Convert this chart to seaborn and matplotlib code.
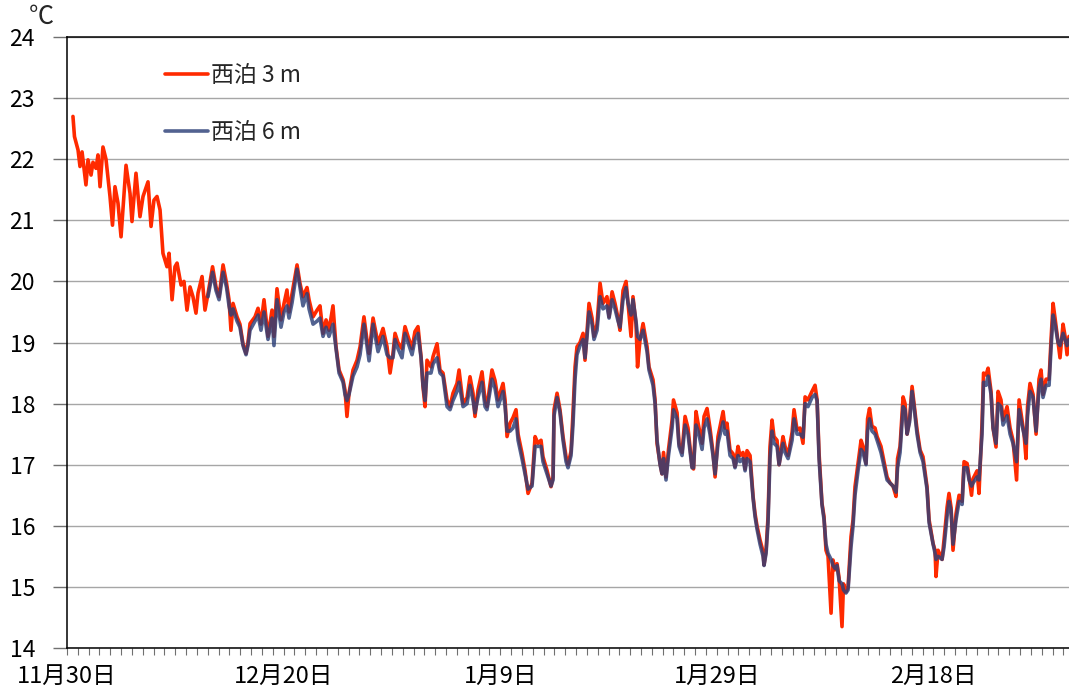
import numpy as np
import pandas as pd
import matplotlib
matplotlib.use("Agg")
import matplotlib.pyplot as plt
import matplotlib.dates as mdates
from matplotlib.ticker import FuncFormatter
import seaborn as sns

# Water temperature at Nishidomari, 3 m and 6 m depth
START = "2015-11-30"

elapsed_days = [
    0.55, 0.69, 1.02, 1.20, 1.39, 1.75, 1.94, 2.22, 2.40, 2.68,
    2.86, 3.05, 3.32, 3.60, 3.97, 4.20, 4.43, 4.71, 4.99, 5.45,
    5.82, 6.00, 6.37, 6.74, 7.02, 7.48, 7.76, 8.03, 8.31, 8.59,
    8.86, 9.23, 9.42, 9.70, 9.97, 10.16, 10.53, 10.80, 11.08, 11.36,
    11.63, 11.91, 12.10, 12.47, 12.74,
    13.02, 13.44, 13.76, 14.04, 14.41, 14.73, 14.96, 15.14, 15.33, 15.70,
    15.97, 16.25, 16.53, 16.71, 16.90, 17.36, 17.64, 17.91, 18.19, 18.56,
    18.93, 19.11, 19.39, 19.76, 20.04, 20.31, 20.50, 20.78, 21.24, 21.51,
    21.79, 22.16, 22.35, 22.72, 23.09, 23.36, 23.64, 23.92, 24.19, 24.56,
    24.84, 25.12, 25.49, 25.67, 25.85, 26.04, 26.41, 26.78, 27.06, 27.42,
    27.70, 27.89, 28.26, 28.72, 29.18, 29.55, 29.83, 30.10, 30.29, 30.56,
    30.93, 31.21, 31.49, 31.86, 32.13, 32.41, 32.69, 32.87, 33.06, 33.24,
    33.61, 33.80, 34.17, 34.44, 34.72, 35.09, 35.37, 35.64, 36.01, 36.20,
    36.57, 36.94, 37.21, 37.49, 37.67, 37.95, 38.32, 38.60, 38.78, 39.24,
    39.52, 39.80, 40.26, 40.45, 40.63, 40.91, 41.18, 41.46, 41.65, 42.01,
    42.29, 42.57, 42.94, 43.22, 43.49, 43.77, 43.95, 44.32, 44.69, 44.88,
    44.97, 45.25, 45.52, 45.80, 46.08, 46.26, 46.54, 46.72, 46.91, 47.09,
    47.37, 47.65, 47.83, 48.02, 48.20, 48.48, 48.66, 48.94, 49.22, 49.49,
    49.86, 50.05, 50.33, 50.60, 50.88, 51.06, 51.34, 51.62, 51.80, 52.08,
    52.26, 52.54, 52.68, 52.91, 53.19, 53.56, 53.74, 54.11, 54.30, 54.48,
    54.76, 54.94, 55.08, 55.31, 55.54, 55.87, 56.00, 56.33, 56.51, 56.79,
    57.07, 57.34, 57.71, 57.85, 58.08, 58.27, 58.64, 58.82, 59.10, 59.37,
    59.65, 59.84, 60.11, 60.58, 60.76, 60.94, 61.22, 61.50, 61.68, 61.96,
    62.14, 62.42, 62.61, 62.79, 63.07, 63.35, 63.53, 63.71, 63.99, 64.27,
    64.36, 64.55, 64.73, 64.91, 65.10, 65.28, 65.56, 65.75, 66.11, 66.30,
    66.58, 66.95, 67.13, 67.41, 67.68, 67.96, 68.15, 68.42, 68.79, 69.07,
    69.26, 69.44, 69.71, 69.90, 70.08, 70.27, 70.55, 70.73, 70.92, 71.10,
    71.29, 71.56, 71.70, 71.93, 72.12, 72.39, 72.58, 72.76, 73.04, 73.32,
    73.50, 73.78, 73.92, 74.10, 74.33, 74.61, 74.80, 75.16, 75.35, 75.72,
    76.00, 76.27, 76.55, 76.69, 76.92, 77.20, 77.38, 77.57, 77.80, 78.03,
    78.21, 78.49, 78.77, 79.04, 79.41, 79.60, 79.97, 80.15, 80.24, 80.43,
    80.80, 80.98, 81.26, 81.44, 81.63, 81.81, 82.09, 82.37, 82.65, 82.83,
    83.11, 83.29, 83.52, 83.66, 84.03, 84.21, 84.49, 84.63, 84.86, 85.05,
    85.32, 85.51, 85.78, 85.97, 86.24, 86.43, 86.80, 87.08, 87.35, 87.68,
    87.91, 88.18, 88.37, 88.55, 88.69, 88.92, 89.20, 89.48, 89.75, 89.94,
    90.12, 90.40, 90.68, 90.86, 91.05, 91.23, 91.51, 91.69, 91.97, 92.16,
    92.34, 92.52,
]

temp_3m = [
    22.70, 22.37, 22.15, 21.88, 22.12, 21.58, 21.99, 21.74, 21.95, 21.85,
    22.07, 21.55, 22.20, 22.00, 21.39, 20.92, 21.55, 21.28, 20.73, 21.90,
    21.44, 20.98, 21.77, 21.06, 21.39, 21.63, 20.90, 21.33, 21.39, 21.17,
    20.46, 20.24, 20.46, 19.70, 20.24, 20.30, 19.94, 20.00, 19.53, 19.91,
    19.75, 19.48, 19.81, 20.08, 19.53,
    19.80, 20.24, 19.91, 19.75, 20.27, 19.97, 19.70, 19.20, 19.64, 19.42,
    19.30, 18.98, 18.82, 19.00, 19.31, 19.42, 19.56, 19.30, 19.70, 19.10,
    19.53, 19.10, 19.88, 19.37, 19.64, 19.86, 19.50, 19.80, 20.27, 19.97,
    19.75, 19.90, 19.70, 19.42, 19.53, 19.60, 19.15, 19.37, 19.20, 19.60,
    18.93, 18.55, 18.39, 18.22, 17.79, 18.17, 18.55, 18.71, 18.93, 19.42,
    19.04, 18.82, 19.40, 18.98, 19.23, 18.93, 18.50, 18.82, 19.15, 19.00,
    18.90, 19.26, 19.10, 18.90, 19.18, 19.26, 18.77, 18.28, 17.95, 18.71,
    18.60, 18.77, 18.98, 18.55, 18.50, 18.06, 17.95, 18.17, 18.33, 18.55,
    18.00, 18.10, 18.44, 18.17, 17.79, 18.22, 18.52, 18.06, 17.95, 18.55,
    18.38, 18.06, 18.33, 18.06, 17.46, 17.68, 17.77, 17.90, 17.50, 17.19,
    16.91, 16.53, 16.70, 17.46, 17.35, 17.40, 17.13, 16.91, 16.64, 16.80,
    17.90, 18.17, 17.90, 17.46, 17.13, 17.00, 17.22, 17.84, 18.60, 18.93,
    19.00, 19.15, 18.71, 19.20, 19.64, 19.40, 19.10, 19.30, 19.97, 19.64,
    19.75, 19.42, 19.83, 19.64, 19.40, 19.20, 19.85, 20.00, 19.64, 19.10,
    19.75, 19.30, 18.60, 19.04, 19.31, 18.93, 18.60, 18.39, 18.06, 17.35,
    17.02, 16.85, 17.20, 16.80, 17.25, 17.73, 18.06, 17.85, 17.35, 17.20,
    17.79, 17.60, 16.97, 16.93, 17.87, 17.68, 17.35, 17.79, 17.92, 17.60,
    17.20, 16.80, 17.46, 17.87, 17.60, 17.68, 17.24, 17.18, 16.97, 17.30,
    17.15, 17.20, 16.93, 17.23, 17.15, 16.48, 16.20, 16.00, 15.77, 15.58,
    15.36, 15.60, 16.15, 17.29, 17.73, 17.46, 17.40, 17.00, 17.46, 17.30,
    17.15, 17.53, 17.90, 17.57, 17.60, 17.35, 18.11, 18.06, 18.20, 18.30,
    18.06, 17.19, 16.37, 16.15, 15.60, 15.50, 14.57, 15.44, 15.28, 15.38,
    15.15, 14.35, 15.05, 14.92, 15.00, 15.82, 16.10, 16.64, 17.02, 17.40,
    17.30, 17.02, 17.75, 17.92, 17.63, 17.60, 17.46, 17.30, 17.13, 16.80,
    16.70, 16.65, 16.48, 17.10, 17.30, 18.11, 18.00, 17.50, 17.75, 18.28,
    18.00, 17.57, 17.24, 17.13, 16.64, 16.10, 15.71, 15.60, 15.17, 15.60,
    15.45, 15.77, 16.30, 16.53, 16.30, 15.60, 16.20, 16.50, 16.40, 17.05,
    17.02, 16.80, 16.50, 16.77, 16.90, 16.53, 17.68, 18.50, 18.47, 18.58,
    18.20, 17.60, 17.29, 18.20, 18.06, 17.73, 17.95, 17.60, 17.40, 16.75,
    18.06, 17.73, 17.50, 17.10, 17.95, 18.33, 18.15, 17.50, 18.40, 18.55,
    18.15, 18.40, 18.40, 19.04, 19.64, 19.40, 19.00, 18.75, 19.30, 19.10,
    18.80, 19.10,
]

# The 6 m logger begins recording on 13 December
temp_6m = [
    19.75, 20.15, 19.85, 19.70, 20.15, 19.90, 19.60, 19.45, 19.55, 19.35,
    19.25, 18.95, 18.80, 18.95, 19.20, 19.35, 19.45, 19.20, 19.50, 19.05,
    19.40, 18.95, 19.70, 19.25, 19.50, 19.60, 19.40, 19.65, 20.20, 19.90,
    19.60, 19.80, 19.55, 19.30, 19.35, 19.40, 19.10, 19.25, 19.10, 19.30,
    18.90, 18.50, 18.35, 18.15, 18.05, 18.15, 18.45, 18.60, 18.80, 19.30,
    18.95, 18.70, 19.30, 18.85, 19.10, 18.80, 18.75, 18.75, 19.05, 18.90,
    18.75, 19.15, 19.00, 18.80, 19.05, 19.15, 18.75, 18.30, 18.05, 18.50,
    18.50, 18.65, 18.75, 18.50, 18.45, 17.95, 17.90, 18.05, 18.20, 18.35,
    17.95, 18.00, 18.30, 18.05, 17.85, 18.10, 18.35, 17.95, 17.90, 18.40,
    18.25, 17.95, 18.20, 17.95, 17.55, 17.55, 17.60, 17.75, 17.40, 17.10,
    16.85, 16.60, 16.65, 17.30, 17.30, 17.30, 17.05, 16.85, 16.65, 16.75,
    17.80, 18.10, 17.85, 17.40, 17.05, 16.95, 17.15, 17.65, 18.40, 18.80,
    18.95, 19.05, 18.75, 19.10, 19.50, 19.30, 19.05, 19.20, 19.75, 19.55,
    19.60, 19.40, 19.70, 19.55, 19.35, 19.25, 19.70, 19.90, 19.65, 19.45,
    19.70, 19.35, 19.10, 19.05, 19.20, 18.85, 18.55, 18.30, 18.00, 17.40,
    17.00, 16.85, 17.10, 16.75, 17.15, 17.60, 17.90, 17.75, 17.30, 17.15,
    17.65, 17.50, 16.95, 16.95, 17.65, 17.55, 17.25, 17.60, 17.75, 17.50,
    17.15, 16.85, 17.35, 17.70, 17.50, 17.55, 17.15, 17.10, 16.95, 17.15,
    17.05, 17.10, 16.90, 17.10, 17.05, 16.45, 16.15, 15.95, 15.70, 15.50,
    15.35, 15.55, 16.05, 17.10, 17.55, 17.35, 17.30, 17.00, 17.35, 17.20,
    17.10, 17.40, 17.75, 17.50, 17.50, 17.45, 18.00, 17.95, 18.10, 18.15,
    18.05, 17.10, 16.35, 16.10, 15.70, 15.55, 15.45, 15.35, 15.30, 15.35,
    15.10, 15.05, 14.95, 14.90, 14.95, 15.65, 16.00, 16.50, 16.90, 17.25,
    17.20, 17.00, 17.55, 17.75, 17.55, 17.50, 17.40, 17.20, 17.05, 16.75,
    16.70, 16.65, 16.55, 16.95, 17.20, 17.95, 17.90, 17.50, 17.70, 18.20,
    17.95, 17.50, 17.20, 17.05, 16.60, 16.05, 15.70, 15.55, 15.45, 15.50,
    15.45, 15.65, 16.15, 16.40, 16.25, 15.70, 16.10, 16.40, 16.35, 16.95,
    16.95, 16.75, 16.65, 16.70, 16.80, 16.75, 17.50, 18.35, 18.30, 18.45,
    18.15, 17.60, 17.35, 18.00, 17.95, 17.65, 17.80, 17.50, 17.35, 17.05,
    17.90, 17.65, 17.50, 17.35, 17.80, 18.20, 18.10, 17.55, 18.25, 18.40,
    18.10, 18.30, 18.30, 18.90, 19.45, 19.30, 19.00, 18.95, 19.15, 19.05,
    18.95, 19.05,
]

series_labels = ["西泊 3 m", "西泊 6 m"]
series_colors = ["#ff2a00", "#2c3f78"]
tick_dates = ["2015-11-30", "2015-12-20", "2016-01-09", "2016-01-29", "2016-02-18"]
y_ticks = list(range(14, 25))
x_span_days = 92.52

sns.set_theme(style="white")
plt.rcParams["font.family"] = ["Noto Sans CJK JP", "DejaVu Sans"]

start = pd.Timestamp(START)
times = start + pd.to_timedelta(elapsed_days, unit="D")
n_missing = len(elapsed_days) - len(temp_6m)
df = pd.DataFrame({
    "time": times,
    "t3": temp_3m,
    "t6": [np.nan] * n_missing + temp_6m,
})

W, H = 1069, 689
fig = plt.figure(figsize=(W / 100, H / 100), dpi=100)
ax = fig.add_axes([67 / W, 1 - 648 / H, 1002 / W, 611 / H])

sns.lineplot(data=df, x="time", y="t3", ax=ax, color=series_colors[0],
             linewidth=2.6, label=series_labels[0], estimator=None)
sns.lineplot(data=df.dropna(), x="time", y="t6", ax=ax, color=series_colors[1],
             linewidth=2.6, alpha=0.82, label=series_labels[1], estimator=None)

ax.set_xlim(start, start + pd.Timedelta(days=x_span_days))
ax.set_ylim(y_ticks[0], y_ticks[-1])
ax.set_yticks(y_ticks)
ax.set_xticks(pd.to_datetime(tick_dates))
ax.xaxis.set_minor_locator(mdates.DayLocator())


def date_label(v, pos):
    d = mdates.num2date(v)
    return f"{d.month}月{d.day}日"


ax.xaxis.set_major_formatter(FuncFormatter(date_label))
ax.set_xlabel("")
ax.set_ylabel("")

ax.yaxis.grid(True, color="#a6a6a6", linewidth=1.0)
ax.xaxis.grid(False)
ax.set_axisbelow(True)

for side in ["left", "bottom", "top"]:
    ax.spines[side].set_visible(True)
    ax.spines[side].set_color("black")
    ax.spines[side].set_linewidth(1.1)
ax.spines["right"].set_visible(False)

ax.tick_params(axis="y", which="major", left=True, direction="out", length=10,
               width=1, color="#707070", labelsize=16.5, pad=13, labelcolor="black")
ax.tick_params(axis="x", which="both", bottom=True, direction="out", length=5,
               width=0.8, color="#707070", labelsize=17, pad=7, labelcolor="black")

ax.legend(loc="upper left", bbox_to_anchor=(0.098, 0.956), frameon=False,
          fontsize=16.5, handlelength=1.85, handletextpad=0.15, labelspacing=1.5,
          borderpad=0, borderaxespad=0)

fig.text(41 / W, 1 - 17 / H, "℃", fontsize=18, ha="center", va="center")

fig.savefig("out.png", dpi=100)
